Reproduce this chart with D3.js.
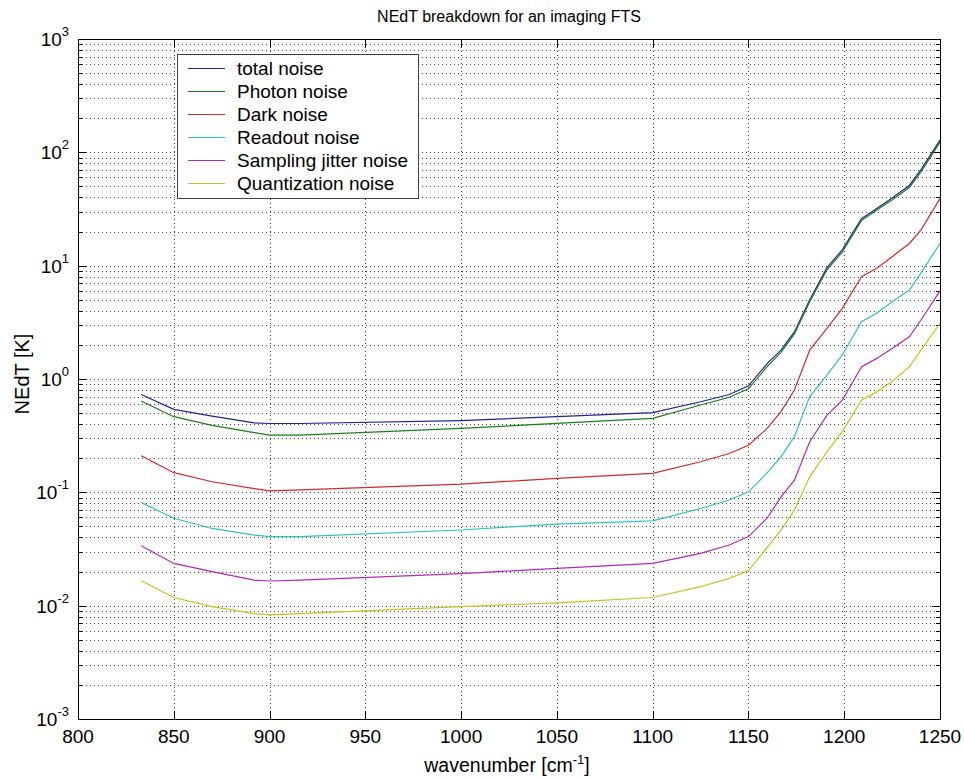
<!DOCTYPE html>
<html>
<head>
<meta charset="utf-8">
<script src="https://cdn.jsdelivr.net/npm/d3@7"></script>
<style>
  body { margin: 0; background: #fff; }
  svg { display: block; font-family: "Liberation Sans", Arial, sans-serif; }
</style>
</head>
<body>
<svg id="chart" width="964" height="780"></svg>
<script>
// Wavenumber samples [cm^-1]
const wavenumber = [833, 850, 870, 892, 900, 916, 1000, 1050, 1100, 1125, 1140, 1150,
                    1160, 1167, 1174, 1182, 1191, 1199, 1209, 1217, 1225, 1234, 1240, 1250];

// NEdT contributions [K]
const totalNoise = [0.73, 0.54, 0.47, 0.41, 0.405, 0.405, 0.43, 0.465, 0.505, 0.63, 0.73, 0.87,
                    1.38, 1.8, 2.6, 5.0, 9.6, 13.8, 26, 32, 39.6, 51, 70, 128];
const photonNoise = [0.64, 0.465, 0.39, 0.337, 0.32, 0.32, 0.367, 0.406, 0.45, 0.59, 0.69, 0.82,
                     1.3, 1.72, 2.5, 4.8, 9.2, 13.2, 25, 31, 38, 49, 67, 123];
const darkNoise = [0.21, 0.149, 0.124, 0.108, 0.103, 0.105, 0.118, 0.133, 0.147, 0.186, 0.22, 0.26,
                   0.37, 0.515, 0.8, 1.8, 2.8, 4.2, 8.0, 9.5, 12, 15.7, 20.6, 39];
const readoutNoise = [0.0816, 0.059, 0.048, 0.042, 0.0407, 0.0407, 0.0465, 0.0525, 0.056, 0.072, 0.0855, 0.101,
                      0.15, 0.206, 0.31, 0.70, 1.08, 1.63, 3.2, 3.8, 4.8, 6.1, 8.6, 15.7];
const jitterNoise = [0.0338, 0.0236, 0.02, 0.0168, 0.0165, 0.0168, 0.0192, 0.0213, 0.0236, 0.0289, 0.0343, 0.0407,
                     0.06, 0.091, 0.128, 0.28, 0.48, 0.65, 1.28, 1.52, 1.86, 2.36, 3.3, 6.0];
const quantNoise = [0.0166, 0.0118, 0.0098, 0.0085, 0.0083, 0.0085, 0.0098, 0.0106, 0.0118, 0.0147, 0.0174, 0.0203,
                    0.033, 0.0465, 0.07, 0.137, 0.229, 0.343, 0.65, 0.77, 0.95, 1.28, 1.8, 3.1];

const seriesNames = ["total noise", "Photon noise", "Dark noise", "Readout noise",
                     "Sampling jitter noise", "Quantization noise"];
const seriesValues = [totalNoise, photonNoise, darkNoise, readoutNoise, jitterNoise, quantNoise];
const seriesColors = ["#22229a", "#1a7f1a", "#d42a2a", "#2cc4c4", "#b428b4", "#c8c21e"];

const xTicks = [800, 850, 900, 950, 1000, 1050, 1100, 1150, 1200, 1250];
const yExponents = [-3, -2, -1, 0, 1, 2, 3];

const svg = d3.select("#chart");
const plotL = 78, plotR = 940, plotT = 39, plotB = 719;

const x = d3.scaleLinear().domain([800, 1250]).range([plotL, plotR]);
const y = d3.scaleLog().domain([1e-3, 1e3]).range([plotB, plotT]);

// Minor and major decade values for grid and ticks
const minorVals = [];
const majorVals = yExponents.map(e => Math.pow(10, e));
for (let e = -3; e < 3; e++) {
  for (let m = 2; m <= 9; m++) minorVals.push(m * Math.pow(10, e));
}

const grid = svg.append("g").attr("stroke", "#000").attr("stroke-width", 1)
  .attr("stroke-dasharray", "1,3").attr("opacity", 0.75);

// horizontal dotted grid at every decade subdivision
grid.selectAll("line.h").data(minorVals.concat(majorVals.slice(1, -1))).join("line")
  .attr("class", "h")
  .attr("x1", plotL).attr("x2", plotR)
  .attr("y1", d => Math.round(y(d)) + 0.5).attr("y2", d => Math.round(y(d)) + 0.5);

// vertical dotted grid
grid.selectAll("line.v").data(xTicks.slice(1, -1)).join("line")
  .attr("class", "v")
  .attr("y1", plotT).attr("y2", plotB)
  .attr("x1", d => Math.round(x(d)) + 0.5).attr("x2", d => Math.round(x(d)) + 0.5);

// Inward ticks
const ticks = svg.append("g").attr("stroke", "#000").attr("stroke-width", 1);
xTicks.forEach(v => {
  const px = Math.round(x(v)) + 0.5;
  ticks.append("line").attr("x1", px).attr("x2", px).attr("y1", plotB).attr("y2", plotB - 8);
  ticks.append("line").attr("x1", px).attr("x2", px).attr("y1", plotT).attr("y2", plotT + 8);
});
majorVals.forEach(v => {
  const py = Math.round(y(v)) + 0.5;
  ticks.append("line").attr("x1", plotL).attr("x2", plotL + 8).attr("y1", py).attr("y2", py);
  ticks.append("line").attr("x1", plotR).attr("x2", plotR - 8).attr("y1", py).attr("y2", py);
});
minorVals.forEach(v => {
  const py = Math.round(y(v)) + 0.5;
  ticks.append("line").attr("x1", plotL).attr("x2", plotL + 4).attr("y1", py).attr("y2", py);
  ticks.append("line").attr("x1", plotR).attr("x2", plotR - 4).attr("y1", py).attr("y2", py);
});

// Noise curves
const line = d3.line()
  .x((d, i) => x(wavenumber[i]))
  .y(d => y(d));

svg.append("g")
  .selectAll("path").data(seriesValues).join("path")
  .attr("d", d => line(d))
  .attr("fill", "none")
  .attr("stroke", (d, i) => seriesColors[i])
  .attr("stroke-width", 1.2);

// Axes frame
svg.append("rect")
  .attr("x", plotL + 0.5).attr("y", plotT + 0.5)
  .attr("width", plotR - plotL).attr("height", plotB - plotT)
  .attr("fill", "none").attr("stroke", "#000").attr("stroke-width", 1);

// x tick labels
svg.append("g").selectAll("text").data(xTicks).join("text")
  .attr("x", d => x(d)).attr("y", plotB + 24)
  .attr("text-anchor", "middle")
  .attr("font-size", 19).attr("fill", "#000")
  .text(d => d);

// y tick labels, 10^n
const yl = svg.append("g").selectAll("text").data(yExponents).join("text")
  .attr("x", 69).attr("y", d => y(Math.pow(10, d)) + 7)
  .attr("text-anchor", "end")
  .attr("font-size", 19).attr("fill", "#000");
yl.append("tspan").text("10");
yl.append("tspan").attr("dy", -10).attr("font-size", 13).text(d => d);

// Title and axis labels
svg.append("text").attr("x", (plotL + plotR) / 2).attr("y", 22)
  .attr("text-anchor", "middle").attr("font-size", 16).attr("fill", "#000")
  .text("NEdT breakdown for an imaging FTS");

const xl = svg.append("text").attr("x", 507).attr("y", 772)
  .attr("text-anchor", "middle").attr("font-size", 19.5).attr("fill", "#000");
xl.append("tspan").text("wavenumber [cm");
xl.append("tspan").attr("dy", -8).attr("font-size", 13).text("-1");
xl.append("tspan").attr("dy", 8).text("]");

svg.append("text")
  .attr("transform", "translate(29,374) rotate(-90)")
  .attr("text-anchor", "middle").attr("font-size", 20).attr("fill", "#000")
  .text("NEdT [K]");

// Legend
const lg = svg.append("g").attr("transform", "translate(177,54)");
lg.append("rect").attr("x", 0.5).attr("y", 0.5).attr("width", 241).attr("height", 144)
  .attr("fill", "#fff").attr("stroke", "#444").attr("stroke-width", 1);
const rows = lg.selectAll("g.row").data(seriesNames).join("g")
  .attr("class", "row")
  .attr("transform", (d, i) => `translate(0,${14 + i * 23})`);
rows.append("line").attr("x1", 11).attr("x2", 48).attr("y1", 0.5).attr("y2", 0.5)
  .attr("stroke", (d, i) => seriesColors[i]).attr("stroke-width", 1.2);
rows.append("text").attr("x", 60).attr("y", 7)
  .attr("font-size", 19).attr("fill", "#000").text(d => d);
</script>
</body>
</html>
